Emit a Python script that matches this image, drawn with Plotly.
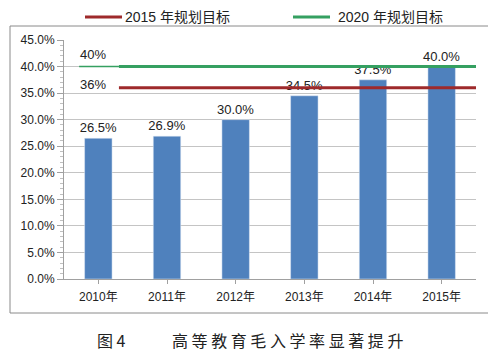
import plotly.graph_objects as go

years = ["2010年", "2011年", "2012年", "2013年", "2014年", "2015年"]
rates = [26.5, 26.9, 30.0, 34.5, 37.5, 40.0]
tick_vals = [0, 5, 10, 15, 20, 25, 30, 35, 40, 45]
tick_text = ["0.0%", "5.0%", "10.0%", "15.0%", "20.0%", "25.0%", "30.0%", "35.0%", "40.0%", "45.0%"]
target_2015 = 36
target_2020 = 40
target_names = ["2015 年规划目标", "2020 年规划目标"]
caption_fig = "图 4"
caption_text = "高等教育毛入学率显著提升"

BAR = "#4f81bd"
RED = "#9e2a2b"
GREEN = "#35a061"
FONT = "Liberation Sans, Noto Sans CJK SC, sans-serif"

idx = list(range(len(years)))

fig = go.Figure()
fig.add_trace(go.Bar(
    x=idx, y=rates, marker_color=BAR, width=0.4,
    text=[f"{v:.1f}%" for v in rates], textposition="outside",
    textfont=dict(size=13, color="#222"), cliponaxis=False,
    constraintext="none", showlegend=False,
))
# target lines
fig.add_trace(go.Scatter(
    x=[0.3, 5.5], y=[target_2015] * 2, mode="lines",
    line=dict(color=RED, width=3), name=target_names[0], showlegend=False,
))
fig.add_trace(go.Scatter(
    x=[-0.28, 0.3], y=[target_2020] * 2, mode="lines",
    line=dict(color=GREEN, width=1.5), showlegend=False,
))
fig.add_trace(go.Scatter(
    x=[0.3, 5.5], y=[target_2020] * 2, mode="lines",
    line=dict(color=GREEN, width=3), name=target_names[1], showlegend=False,
))

# page has an 8px body margin: figure pixel = page pixel - 8
OFF = 8
W, H = 496 - OFF, 357 - OFF
L, R, T = 64 - OFF, 20, 40 - OFF
B = H - (279 - OFF)
pw, ph = W - L - R, H - T - B

def px(x):
    return (x - OFF - L) / pw

def py(y):
    return (H - B - (y - OFF)) / ph

LEG_Y = 17
legend_shapes = [
    dict(type="line", xref="paper", yref="paper", x0=px(85), x1=px(122), y0=py(LEG_Y), y1=py(LEG_Y),
         line=dict(color=RED, width=3)),
    dict(type="line", xref="paper", yref="paper", x0=px(293), x1=px(330), y0=py(LEG_Y), y1=py(LEG_Y),
         line=dict(color=GREEN, width=3)),
]
legend_ann = [
    dict(x=px(124), y=py(OFF), xref="paper", yref="paper", xanchor="left", yanchor="top",
         text=target_names[0], showarrow=False, font=dict(size=14, color="#222"), borderpad=0),
    dict(x=px(337), y=py(OFF), xref="paper", yref="paper", xanchor="left", yanchor="top",
         text=target_names[1], showarrow=False, font=dict(size=14, color="#222"), borderpad=0),
]

fig.update_layout(
    width=W, height=H,
    margin=dict(l=L, r=R, t=T, b=B, autoexpand=False),
    paper_bgcolor="white", plot_bgcolor="white",
    font=dict(family=FONT, size=12, color="#222"),
    showlegend=False,
    xaxis=dict(range=[-0.5, 5.5], tickvals=idx, ticktext=years, automargin=False,
               showgrid=False, showline=True, linecolor="#a0a0a0",
               ticks="outside", tickson="boundaries", ticklen=4, tickcolor="#a0a0a0",
               ticklabelstandoff=3,
               tickfont=dict(size=12, color="#222"), fixedrange=True),
    yaxis=dict(range=[0, 45], tickvals=tick_vals, ticktext=tick_text, automargin=False,
               showgrid=True, gridcolor="#c4c4c4", gridwidth=1,
               showline=True, linecolor="#a0a0a0", zeroline=False,
               ticks="outside", ticklen=6, tickcolor="#a0a0a0",
               minor=dict(dtick=1, ticks="outside", ticklen=3, tickcolor="#c0c0c0", showgrid=False),
               tickfont=dict(size=12, color="#222"), fixedrange=True),
    bargap=0.6,
    shapes=[
        dict(type="rect", xref="paper", yref="paper",
             x0=px(10), x1=px(490), y0=py(313), y1=py(26),
             line=dict(color="#8a8a8a", width=1), fillcolor="rgba(0,0,0,0)", layer="above"),
        dict(type="rect", xref="paper", yref="paper",
             x0=px(65), x1=px(118), y0=py(100), y1=py(38),
             line=dict(width=0), fillcolor="white", layer="between"),
    ] + legend_shapes,
    annotations=[
        dict(x=-0.08, y=target_2020, xref="x", yref="y", text=f"{target_2020}%",
             showarrow=False, yshift=12, font=dict(size=13, color="#222")),
        dict(x=-0.08, y=target_2015, xref="x", yref="y", text=f"{target_2015}%",
             showarrow=False, yshift=3, font=dict(size=13, color="#222")),
        dict(x=px(95), y=py(340), xref="paper", yref="paper", xanchor="left", yanchor="middle",
             text=caption_fig, showarrow=False,
             font=dict(family="Noto Sans CJK SC", size=16, color="#222")),
        dict(x=px(170), y=py(340), xref="paper", yref="paper", xanchor="left", yanchor="middle",
             text=" ".join(caption_text), showarrow=False,
             font=dict(family="Noto Sans CJK SC", size=16, color="#222")),
    ] + legend_ann,
)

fig.write_html("out.html")
